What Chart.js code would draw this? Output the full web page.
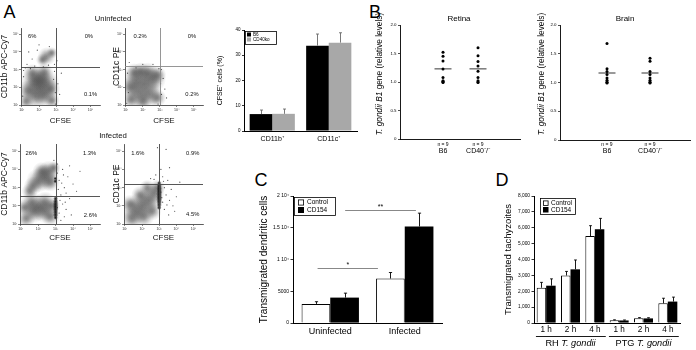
<!DOCTYPE html>
<html><head><meta charset="utf-8">
<script src="https://cdn.jsdelivr.net/npm/chart.js@4.4.1/dist/chart.umd.min.js"></script>
<style>
html,body{margin:0;padding:0;background:#fff}
#wrap{position:relative;width:696px;height:350px;overflow:hidden;background:#fff;font-family:"Liberation Sans",Arial,sans-serif;color:#000}
#wrap canvas{position:absolute;left:0;top:0}
.lbl{position:absolute;transform:translate(-50%,-50%);line-height:1;white-space:nowrap}
</style></head><body>
<div id="wrap">
<div class="lbl" style="left:9.5px;top:11.5px;font-size:18px">A</div>
<div class="lbl" style="left:375px;top:11.5px;font-size:18px">B</div>
<div class="lbl" style="left:261px;top:180px;font-size:18px">C</div>
<div class="lbl" style="left:502px;top:180px;font-size:18px">D</div>
</div>
<script>
// ================= DATA =================
// Panel A – flow cytometry (log10 units). Clusters: [CFSE, marker, spread in decades]
const flowDecades = [1, 2, 3, 4, 5];
const flowDecadeLabels = ['10¹', '10²', '10³', '10⁴', '10⁵'];
const flowConditions = ['Uninfected', 'Infected'];

const uninfCD11bClusters = [[2.05,2.0,0.6],[1.7,2.3,0.5],[2.4,2.3,0.5],[1.8,1.5,0.5],[2.35,1.55,0.45],[1.35,1.8,0.4],[2.7,1.9,0.35],[1.6,2.8,0.35],[2.3,2.85,0.35],[1.25,1.2,0.3],[2.75,1.25,0.3],[2.0,2.5,0.45],[2.45,3.75,0.35],[2.2,3.55,0.25],[2.75,3.95,0.22]];
const uninfCD11bDark = [];
const uninfCD11bEvents = [[1.3,3.3],[1.6,3.6],[1.9,4.1],[2.9,3.3],[3.1,2.2],[3.2,1.6],[1.1,2.6],[2.0,4.4],[1.4,4.0],[3.3,2.8],[2.6,4.3],[3.05,3.5],[2.9,2.9],[1.2,3.1],[1.05,1.5],[2.95,1.05],[2.85,2.45],[1.1,2.95],[2.55,3.25],[1.75,3.2],[2.95,1.7],[1.5,3.05],[2.25,3.15]];
const uninfCD11bGate = [3.0, 3.15];
const uninfCD11bPct = ['6%', '0%', '0.1%'];

const uninfCD11cClusters = [[2.1,2.2,0.65],[1.6,2.4,0.55],[2.6,2.45,0.5],[1.7,1.6,0.5],[2.4,1.6,0.5],[1.25,2.0,0.4],[1.3,1.3,0.35],[2.85,1.4,0.35],[2.85,2.7,0.35],[1.5,2.85,0.35],[2.3,2.85,0.38],[1.9,2.9,0.35],[2.0,1.2,0.35]];
const uninfCD11cDark = [];
const uninfCD11cEvents = [[3.2,2.5],[3.3,1.9],[1.2,3.4],[2.0,3.3],[2.6,3.3],[3.1,3.0],[1.1,2.8],[3.4,1.4],[1.05,1.1],[2.9,1.05],[3.05,2.2],[3.1,1.6],[1.15,1.7],[2.95,3.05],[1.6,3.1]];
const uninfCD11cGate = [3.02, 3.2];
const uninfCD11cPct = ['0.2%', '0%', '0.2%'];

const infCD11bClusters = [[2.4,3.55,0.5],[2.0,3.4,0.45],[2.6,3.9,0.4],[2.2,3.9,0.35],[1.7,3.1,0.35],[2.7,3.3,0.35],[2.9,4.1,0.25],[1.5,2.8,0.3],[2.0,1.9,0.5],[1.7,1.7,0.45],[2.4,1.7,0.45],[1.6,2.2,0.4],[2.4,2.2,0.4],[1.3,1.3,0.35],[2.7,1.4,0.35],[1.2,1.9,0.3],[2.8,2.0,0.3]];
const infCD11bDark = [[3.0,1.35,0.1],[3.0,1.5,0.12],[3.0,1.65,0.12],[3.0,1.8,0.13],[3.0,1.95,0.13],[3.0,2.1,0.13],[3.0,2.25,0.12],[3.0,2.4,0.11],[2.98,3.35,0.09],[2.98,3.5,0.08]];
const infCD11bEvents = [[3.2,1.6],[3.4,2.1],[3.6,1.8],[3.3,2.6],[3.5,3.0],[3.8,2.4],[3.2,3.4],[3.7,3.6],[3.4,4.0],[4.0,3.2],[3.1,4.3],[3.9,1.5],[4.2,2.8],[3.3,1.2],[3.6,2.7],[3.15,2.9],[3.45,3.7],[2.9,4.5],[3.8,4.2],[4.4,3.9],[3.25,2.3],[3.5,1.4],[3.1,1.9],[3.35,3.25],[3.1,3.8],[3.55,2.2]];
const infCD11bGate = [3.0, 2.55];
const infCD11bPct = ['26%', '1.3%', '2.6%'];

const infCD11cClusters = [[2.0,2.0,0.55],[1.6,1.7,0.5],[2.4,2.3,0.5],[1.4,1.3,0.4],[2.1,1.4,0.4],[2.7,2.7,0.4],[2.9,3.0,0.3],[1.3,2.1,0.35],[2.6,1.7,0.35],[1.9,2.6,0.35],[2.3,3.0,0.3]];
const infCD11cDark = [[3.0,1.9,0.11],[3.0,2.05,0.12],[3.0,2.2,0.13],[3.0,2.35,0.14],[3.0,2.5,0.14],[3.0,2.65,0.14],[3.0,2.8,0.13],[3.0,2.95,0.13],[3.0,3.1,0.12],[3.0,3.25,0.1]];
const infCD11cEvents = [[3.2,2.2],[3.4,2.6],[3.3,3.0],[3.6,2.3],[3.5,3.4],[3.8,2.0],[3.2,3.6],[3.7,2.9],[4.0,2.5],[3.3,1.8],[2.8,3.7],[3.1,4.0],[3.6,4.1],[4.2,3.3],[2.5,3.5],[3.9,1.7],[3.4,5.1],[2.9,5.2],[3.15,2.45],[3.55,1.5],[3.1,2.75],[3.25,3.35],[2.7,3.45],[3.45,2.05]];
const infCD11cGate = [3.0, 3.2];
const infCD11cPct = ['1.6%', '0.9%', '4.5%'];

// Panel A – bar chart
const aCategories = ['CD11b⁺', 'CD11c⁺'];
const aB6 = [6.7, 33.8];
const aB6Err = [1.6, 4.6];
const aCD40ko = [6.8, 35.0];
const aCD40koErr = [1.9, 3.9];
const aYTicks = [0, 10, 20, 30, 40];

// Panel B – dot plots
const bGroups = ['B6', 'CD40⁻/⁻'];
const bN = ['n = 9', 'n = 9'];
const retinaB6 = [1.52, 1.45, 1.37, 1.23, 1.08, 1.02, 1.00, 0.99, 1.01];
const retinaCD40 = [1.60, 1.46, 1.36, 1.28, 1.19, 1.08, 1.02, 1.00, 0.99];
const retinaMeans = [1.23, 1.23];
const brainB6 = [1.68, 1.24, 1.19, 1.14, 1.08, 1.04, 0.99, 1.00, 1.01];
const brainCD40 = [1.42, 1.37, 1.19, 1.14, 1.08, 1.04, 0.99, 1.00, 1.01];
const brainMeans = [1.165, 1.165];
const bYTicks = [0, 0.5, 1, 1.5, 2];

// Panel C
const cCategories = ['Uninfected', 'Infected'];
const cControl = [3000, 7000];
const cControlErr = [350, 950];
const cCD154 = [4000, 15200];
const cCD154Err = [700, 2100];
const cYTicks = [0, 5000, 10000, 15000, 20000];
const cYTickLabels = ['0', '5000', '1 10⁴', '1.5 10⁴', '2 10⁴'];
const cSignificance = ['*', '**'];
const cSignificanceLevel = [8660, 17800];

// Panel D
const dLabels = ['1 h', '2 h', '4 h', '1 h', '2 h', '4 h'];
const dStrains = ['RH', 'PTG'];
const dControl = [2220, 2990, 5480, 170, 300, 1240];
const dControlErr = [340, 260, 650, 30, 40, 320];
const dCD154 = [2350, 3380, 5900, 160, 290, 1350];
const dCD154Err = [430, 590, 690, 30, 40, 280];
const dYTicks = [0, 1000, 2000, 3000, 4000, 5000, 6000, 7000, 8000];

// ================= HELPERS =================
const FONT = '"Liberation Sans", Arial, Helvetica, sans-serif';
const W = 696, H = 350;
function addCanvas() {
  const c = document.createElement('canvas');
  c.width = W; c.height = H;
  c.style.width = W + 'px'; c.style.height = H + 'px';
  document.getElementById('wrap').appendChild(c);
  return c;
}
function pad(L, T, R, B, wy, hx) { return { left: L - wy, top: T, right: W - R, bottom: H - B - hx }; }
function font(size, extra) { return Object.assign({ size: size, family: FONT }, extra || {}); }
const baseOpts = { responsive: false, animation: false, devicePixelRatio: 1, events: [] };
const noPlugins = { legend: { display: false }, tooltip: { enabled: false }, title: { display: false } };

function drawRich(ctx, it, x) {
  const segs = it.segs || [{ t: it.text }];
  ctx.save();
  ctx.translate(x, it.y);
  if (it.rot) ctx.rotate(it.rot);
  ctx.fillStyle = it.color || '#000';
  ctx.textBaseline = 'middle';
  ctx.textAlign = 'left';
  const fonts = segs.map(s => (s.italic ? 'italic ' : '') + (s.size || it.size) + 'px ' + FONT);
  const widths = segs.map((s, i) => { ctx.font = fonts[i]; return ctx.measureText(s.t).width; });
  const total = widths.reduce((a, b) => a + b, 0);
  let cx = it.align === 'left' ? 0 : it.align === 'right' ? -total : -total / 2;
  segs.forEach((s, i) => { ctx.font = fonts[i]; ctx.fillText(s.t, cx, s.dy || 0); cx += widths[i]; });
  ctx.restore();
}
function textsP(items) {
  return { id: 'texts', afterDraw(chart) {
    items.forEach(it => {
      const x = it.xv !== undefined ? chart.scales.x.getPixelForValue(it.xv) : it.x;
      drawRich(chart.ctx, it, x);
    });
  } };
}
function errP(sets, color, cap, lw) {
  return { id: 'errbars', afterDatasetsDraw(chart) {
    const ctx = chart.ctx, ys = chart.scales.y;
    sets.forEach(([di, errs]) => {
      const meta = chart.getDatasetMeta(di);
      const vals = chart.data.datasets[di].data;
      meta.data.forEach((bar, j) => {
        const top = ys.getPixelForValue(vals[j] + errs[j]);
        const x = Math.round(bar.x) + 0.5;
        ctx.save(); ctx.strokeStyle = color; ctx.lineWidth = lw;
        ctx.beginPath(); ctx.moveTo(x, bar.y); ctx.lineTo(x, top);
        ctx.moveTo(x - cap, top); ctx.lineTo(x + cap, top); ctx.stroke(); ctx.restore();
      });
    });
  } };
}
function boxLegendP(o) {
  return { id: 'boxlegend', afterDraw(chart) {
    const ctx = chart.ctx;
    ctx.save();
    ctx.strokeStyle = '#000'; ctx.lineWidth = 0.8;
    ctx.strokeRect(o.x + 0.5, o.y + 0.5, o.w, o.h);
    chart.data.datasets.forEach((ds, i) => {
      const yy = o.y + o.top + i * o.row;
      ctx.fillStyle = ds.backgroundColor;
      ctx.fillRect(o.x + o.left, yy, o.sw, o.sw);
      if (ds.borderWidth) { ctx.strokeStyle = '#000'; ctx.lineWidth = 0.8; ctx.strokeRect(o.x + o.left + 0.4, yy + 0.4, o.sw - 0.8, o.sw - 0.8); }
      ctx.fillStyle = '#000'; ctx.font = o.size + 'px ' + FONT; ctx.textBaseline = 'middle'; ctx.textAlign = 'left';
      ctx.fillText(ds.label, o.x + o.left + o.sw + o.gap, yy + o.sw / 2);
    });
    ctx.restore();
  } };
}
function flowP(gate, pct, pos, gateColor) {
  return { id: 'flow', afterDatasetsDraw(chart) {
    const ctx = chart.ctx, a = chart.chartArea, xs = chart.scales.x, ys = chart.scales.y;
    const gx = Math.round(xs.getPixelForValue(gate[0])) + 0.5, gy = Math.round(ys.getPixelForValue(gate[1])) + 0.5;
    ctx.save(); ctx.strokeStyle = gateColor; ctx.lineWidth = 0.9;
    ctx.beginPath(); ctx.moveTo(gx, a.top); ctx.lineTo(gx, a.bottom); ctx.moveTo(a.left, gy); ctx.lineTo(a.right, gy); ctx.stroke();
    ctx.fillStyle = '#111'; ctx.font = '5.8px ' + FONT; ctx.textAlign = 'center'; ctx.textBaseline = 'middle';
    pct.forEach((t, i) => ctx.fillText(t, xs.getPixelForValue(pos[i][0]), ys.getPixelForValue(pos[i][1])));
    ctx.restore();
  } };
}
// soft density blobs painted at the positions/radii Chart.js computed for the cluster datasets
function blobP(specs) {
  return { id: 'blobs', beforeDatasetsDraw(chart) {
    const ctx = chart.ctx, a = chart.chartArea;
    ctx.save();
    ctx.beginPath(); ctx.rect(a.left, a.top, a.right - a.left, a.bottom - a.top); ctx.clip();
    specs.forEach(sp => {
      chart.getDatasetMeta(sp.index).data.forEach(el => {
        const r = el.options.radius * sp.scale;
        if (!(r > 0) || !isFinite(el.x) || !isFinite(el.y)) return;
        const g = ctx.createRadialGradient(el.x, el.y, 0, el.x, el.y, r);
        sp.stops.forEach(s => g.addColorStop(s[0], 'rgba(' + sp.rgb + ',' + s[1] + ')'));
        ctx.fillStyle = g;
        ctx.beginPath(); ctx.arc(el.x, el.y, r, 0, Math.PI * 2); ctx.fill();
      });
    });
    ctx.restore();
  } };
}

function flowChart(o) {
  const pts = a => a.map(p => ({ x: p[0], y: p[1], s: p[2] || 0 }));
  const rad = ctx => {
    if (!ctx.raw) return 0;
    const sx = ctx.chart.scales.x;
    const r = Math.abs(sx.getPixelForValue(ctx.raw.s) - sx.getPixelForValue(0));
    return isFinite(r) ? r : 0;
  };
  const clear = 'rgba(0,0,0,0)';
  const ds = [
    { data: pts(o.events), pointRadius: 0.6, backgroundColor: 'rgba(45,45,45,0.85)', borderWidth: 0, clip: 0 },
    { data: pts(o.dark), pointRadius: rad, backgroundColor: clear, borderWidth: 0, clip: 0 },
    { data: pts(o.clusters), pointRadius: rad, backgroundColor: clear, borderWidth: 0, clip: 0 }
  ];
  const f = o.frame;
  new Chart(addCanvas(), {
    type: 'scatter',
    data: { datasets: ds },
    options: Object.assign({}, baseOpts, {
      layout: { autoPadding: false, padding: pad(f[0], f[1], f[2], f[3], o.wy, o.hx) },
      scales: {
        x: { type: 'linear', min: 0.95, max: 5.55,
          afterBuildTicks: s => { s.ticks = flowDecades.map(v => ({ value: v })); },
          ticks: { callback: (v, i) => flowDecadeLabels[i], font: font(3.6), color: '#333', padding: 0.5, autoSkip: false, maxRotation: 0 },
          grid: { drawOnChartArea: false, tickLength: 2, color: '#333', lineWidth: 0.6 },
          border: { color: '#333', width: 0.8 },
          title: { display: true, text: 'CFSE', font: font(8), color: '#111', padding: 0 },
          afterFit: s => { s.height = o.hx; } },
        y: { type: 'linear', min: 1.0, max: o.ymax,
          afterBuildTicks: s => { s.ticks = flowDecades.map(v => ({ value: v })); },
          ticks: { callback: (v, i) => flowDecadeLabels[i], font: font(3.6), color: '#333', padding: 0.5, autoSkip: false },
          grid: { drawOnChartArea: false, tickLength: 2, color: '#333', lineWidth: 0.6 },
          border: { color: '#333', width: 0.8 },
          title: { display: true, text: o.ytitle, font: font(8.5), color: '#111', padding: 0 },
          afterFit: s => { s.width = o.wy; } }
      },
      plugins: noPlugins
    }),
    plugins: [
      blobP([
        { index: 2, scale: 1.55, rgb: '68,68,68', stops: [[0, 0.6], [0.25, 0.5], [0.5, 0.3], [0.75, 0.11], [1, 0]] },
        { index: 1, scale: 1.3, rgb: '5,5,5', stops: [[0, 0.9], [0.35, 0.72], [0.7, 0.3], [1, 0]] }
      ]),
      flowP(o.gate, o.pct, o.pctPos, o.gateColor), textsP(o.texts || [])]
  });
}

// ================= PANEL A: FLOW =================
flowChart({ frame: [21, 28, 100, 105], wy: 21, hx: 20.8, ymax: 5.35, ytitle: 'CD11b APC-Cy7',
  clusters: uninfCD11bClusters, dark: uninfCD11bDark, events: uninfCD11bEvents, gate: uninfCD11bGate,
  pct: uninfCD11bPct, pctPos: [[1.6, 4.85], [4.9, 4.85], [5.0, 1.62]], gateColor: '#444',
  texts: [{ text: flowConditions[0], x: 113, y: 19, size: 7.6, color: '#111' }, { text: flowConditions[1], x: 113, y: 136, size: 7.8, color: '#111' }] });
flowChart({ frame: [125, 28, 203, 105], wy: 13.6, hx: 20.8, ymax: 5.35, ytitle: 'CD11c PE',
  clusters: uninfCD11cClusters, dark: uninfCD11cDark, events: uninfCD11cEvents, gate: uninfCD11cGate,
  pct: uninfCD11cPct, pctPos: [[1.84, 4.85], [4.9, 4.85], [4.9, 1.62]], gateColor: '#8a8a8a' });
flowChart({ frame: [20, 144, 100, 224], wy: 20, hx: 19, ymax: 5.4, ytitle: 'CD11b APC-Cy7',
  clusters: infCD11bClusters, dark: infCD11bDark, events: infCD11bEvents, gate: infCD11bGate,
  pct: infCD11bPct, pctPos: [[1.6, 4.87], [4.95, 4.87], [5.0, 1.5]], gateColor: '#444' });
flowChart({ frame: [124, 144, 203, 224], wy: 12.6, hx: 19, ymax: 5.4, ytitle: 'CD11c PE',
  clusters: infCD11cClusters, dark: infCD11cDark, events: infCD11cEvents, gate: infCD11cGate,
  pct: infCD11cPct, pctPos: [[1.75, 4.9], [4.95, 4.9], [4.95, 1.55]], gateColor: '#444' });

// ================= PANEL A: BARS =================
new Chart(addCanvas(), {
  type: 'bar',
  data: { labels: aCategories, datasets: [
    { label: 'B6', data: aB6, backgroundColor: '#000', borderWidth: 0, categoryPercentage: 0.8, barPercentage: 1 },
    { label: 'CD40ko', data: aCD40ko, backgroundColor: '#a8a8a8', borderWidth: 0, categoryPercentage: 0.8, barPercentage: 1 } ] },
  options: Object.assign({}, baseOpts, {
    layout: { autoPadding: false, padding: pad(244, 30, 357, 131, 28.2, 15) },
    scales: {
      x: { grid: { display: false, drawTicks: false }, border: { color: '#000', width: 1 },
        ticks: { font: font(7), color: '#000', padding: 3.8 }, afterFit: s => { s.height = 15; } },
      y: { min: 0, max: 40, afterBuildTicks: s => { s.ticks = aYTicks.map(v => ({ value: v })); },
        ticks: { font: font(4.5), color: '#000', padding: 1.5 },
        grid: { drawOnChartArea: false, tickLength: 2, color: '#000', lineWidth: 0.8 },
        border: { color: '#000', width: 1 },
        title: { display: true, text: 'CFSE⁺ cells (%)', font: font(7), color: '#000', padding: 0 },
        afterFit: s => { s.width = 28.2; } }
    },
    plugins: noPlugins
  }),
  plugins: [errP([[0, aB6Err], [1, aCD40koErr]], '#6a6a6a', 1.5, 0.9),
    boxLegendP({ x: 245, y: 31, w: 31, h: 13, left: 2, top: 1.5, sw: 4, row: 5, gap: 2, size: 4.6 })]
});

// ================= PANEL B =================
function dotChart(o) {
  const col = (vals, x) => vals.map(v => ({ x: x, y: v }));
  const f = o.frame;
  new Chart(addCanvas(), {
    type: 'scatter',
    data: { datasets: [
      { data: o.means.map((v, i) => ({ x: i + 1, y: v })), pointStyle: 'line', pointRadius: 8.5, borderColor: '#000', borderWidth: 0.8, backgroundColor: '#000' },
      { data: col(o.b6, 1), pointRadius: 1.5, backgroundColor: '#000', borderWidth: 0 },
      { data: col(o.cd40, 2), pointRadius: 1.5, backgroundColor: '#000', borderWidth: 0 } ] },
    options: Object.assign({}, baseOpts, {
      layout: { autoPadding: false, padding: pad(f[0], f[1], f[2], f[3], 12, o.hx) },
      scales: {
        x: { type: 'linear', min: o.xmin, max: o.xmax,
          afterBuildTicks: s => { s.ticks = [{ value: 1 }, { value: 2 }]; },
          ticks: { callback: (v, i) => bGroups[i], font: font(7), color: '#000', padding: o.xpad, autoSkip: false, maxRotation: 0 },
          grid: { display: false, drawTicks: false }, border: { color: '#000', width: 0.9 },
          afterFit: s => { s.height = o.hx; } },
        y: { min: 0, max: 2, afterBuildTicks: s => { s.ticks = bYTicks.map(v => ({ value: v })); },
          ticks: { font: font(4.4), color: '#000', padding: 1.5 },
          grid: { drawOnChartArea: false, tickLength: 2, color: '#000', lineWidth: 0.7 },
          border: { color: '#000', width: 0.9 },
          afterFit: s => { s.width = 12; } }
      },
      plugins: noPlugins
    }),
    plugins: [textsP([
      { text: o.title, x: o.titleX, y: 19, size: 8 },
      { segs: [{ t: 'T. gondii B1', italic: true }, { t: ' gene (relative levels)' }], x: o.ytX, y: 74, size: 8.3, rot: -Math.PI / 2 },
      { text: bN[0], xv: 1, y: 144.5, size: 5 },
      { text: bN[1], xv: 2, y: 144.5, size: 5 }
    ])]
  });
}
dotChart({ frame: [400, 25, 520, 139], hx: 16, xpad: 7.8, xmin: -0.229, xmax: 3.2,
  b6: retinaB6, cd40: retinaCD40, means: retinaMeans, title: 'Retina', titleX: 459, ytX: 380 });
dotChart({ frame: [560, 25, 690, 140], hx: 15, xpad: 6.8, xmin: -0.093, xmax: 2.93,
  b6: brainB6, cd40: brainCD40, means: brainMeans, title: 'Brain', titleX: 625, ytX: 542 });

// ================= PANEL C =================
function sigP(spans) {
  return { id: 'sig', afterDatasetsDraw(chart) {
    const ctx = chart.ctx, xs = chart.scales.x, ys = chart.scales.y;
    ctx.save();
    spans.forEach((s, i) => {
      const y = Math.round(ys.getPixelForValue(cSignificanceLevel[i])) + 0.5;
      const x0 = xs.getPixelForValue(s[0]), x1 = xs.getPixelForValue(s[1]);
      ctx.strokeStyle = '#7a7a7a'; ctx.lineWidth = 0.9;
      ctx.beginPath(); ctx.moveTo(x0, y); ctx.lineTo(x1, y); ctx.stroke();
      ctx.fillStyle = '#000'; ctx.font = '7px ' + FONT; ctx.textAlign = 'center'; ctx.textBaseline = 'middle';
      ctx.fillText(cSignificance[i], (x0 + x1) / 2, y - 3.5);
    });
    ctx.restore();
  } };
}
new Chart(addCanvas(), {
  type: 'bar',
  data: { labels: cCategories, datasets: [
    { label: 'Control', data: cControl, backgroundColor: '#fff', borderColor: '#000', borderWidth: 1, categoryPercentage: 0.77, barPercentage: 1 },
    { label: 'CD154', data: cCD154, backgroundColor: '#000', borderColor: '#000', borderWidth: 0, categoryPercentage: 0.77, barPercentage: 1 } ] },
  options: Object.assign({}, baseOpts, {
    layout: { autoPadding: false, padding: pad(293, 196, 442, 323, 35, 15) },
    scales: {
      x: { grid: { display: false, drawTicks: false }, border: { color: '#000', width: 1 },
        ticks: { font: font(9), color: '#000', padding: 3.6 }, afterFit: s => { s.height = 15; } },
      y: { min: 0, max: 20000, afterBuildTicks: s => { s.ticks = cYTicks.map(v => ({ value: v })); },
        ticks: { callback: (v, i) => cYTickLabels[i], font: font(5), color: '#000', padding: 1.5 },
        grid: { drawOnChartArea: false, tickLength: 2.5, color: '#000', lineWidth: 0.8 },
        border: { color: '#000', width: 1 },
        title: { display: true, text: 'Transmigrated dendritic cells', font: font(10), color: '#000', padding: 0 },
        afterFit: s => { s.width = 35; } }
    },
    plugins: noPlugins
  }),
  plugins: [errP([[0, cControlErr], [1, cCD154Err]], '#000', 1.6, 0.9),
    sigP([[-0.17, 0.64], [0.2, 1.15]]),
    boxLegendP({ x: 294, y: 197, w: 41, h: 18, left: 4, top: 2.5, sw: 6, row: 7.5, gap: 3, size: 6.5 })]
});

// ================= PANEL D =================
function groupP(groups) {
  return { id: 'groups', afterDraw(chart) {
    const ctx = chart.ctx, xs = chart.scales.x;
    groups.forEach(g => {
      const x0 = xs.getPixelForValue(g.from - 0.42), x1 = xs.getPixelForValue(g.to + 0.45);
      ctx.save(); ctx.strokeStyle = '#000'; ctx.lineWidth = 0.9;
      ctx.beginPath(); ctx.moveTo(x0, 336.5); ctx.lineTo(x1, 336.5); ctx.stroke(); ctx.restore();
      drawRich(ctx, { segs: [{ t: g.name + ' ' }, { t: 'T. gondii', italic: true }], y: 343.5, size: 9.2 }, xs.getPixelForValue((g.from + g.to) / 2));
    });
  } };
}
new Chart(addCanvas(), {
  type: 'bar',
  data: { labels: dLabels, datasets: [
    { label: 'Control', data: dControl, backgroundColor: '#fff', borderColor: '#000', borderWidth: 1, categoryPercentage: 0.78, barPercentage: 1 },
    { label: 'CD154', data: dCD154, backgroundColor: '#000', borderColor: '#000', borderWidth: 0, categoryPercentage: 0.78, barPercentage: 1 } ] },
  options: Object.assign({}, baseOpts, {
    layout: { autoPadding: false, padding: pad(534, 196, 680, 323, 31.4, 12) },
    scales: {
      x: { grid: { display: false, drawTicks: false }, border: { color: '#000', width: 1 },
        ticks: { font: font(8.2), color: '#000', padding: 2, autoSkip: false, maxRotation: 0 }, afterFit: s => { s.height = 12; } },
      y: { min: 0, max: 8000, afterBuildTicks: s => { s.ticks = dYTicks.map(v => ({ value: v })); },
        ticks: { font: font(4.8), color: '#000', padding: 1.5 },
        grid: { drawOnChartArea: false, tickLength: 2.5, color: '#000', lineWidth: 0.8 },
        border: { color: '#000', width: 1 },
        title: { display: true, text: 'Transmigrated tachyzoites', font: font(9.5), color: '#000', padding: 0 },
        afterFit: s => { s.width = 31.4; } }
    },
    plugins: noPlugins
  }),
  plugins: [errP([[0, dControlErr], [1, dCD154Err]], '#000', 1.4, 0.9),
    groupP([{ name: dStrains[0], from: 0, to: 2 }, { name: dStrains[1], from: 3, to: 5 }]),
    boxLegendP({ x: 540, y: 198, w: 35, h: 16, left: 3, top: 2.5, sw: 5.5, row: 6.5, gap: 2.5, size: 6.5 })]
});
</script>
</body></html>
